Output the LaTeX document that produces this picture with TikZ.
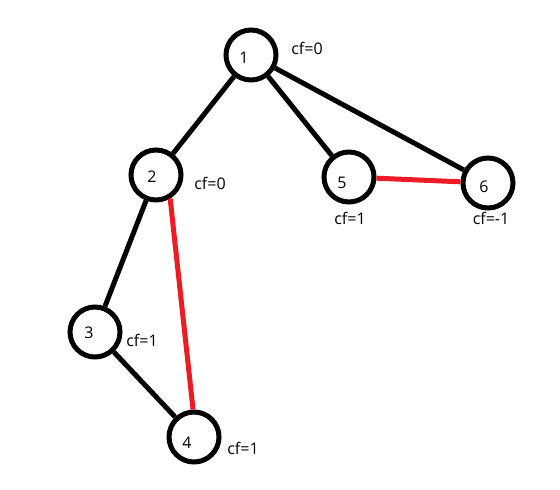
\documentclass[tikz,border=0pt]{standalone}
\usepackage{fontspec}
\setmainfont{Open Sans}
\usetikzlibrary{positioning}
\definecolor{paintred}{RGB}{237,28,36}
\tikzset{
  vtx/.style={circle, draw=black, line width=5pt, minimum size=50pt, inner sep=0pt},
  num/.style={font=\fontsize{16}{19}\selectfont},
  cf/.style={font=\fontsize{16}{19}\selectfont, inner sep=0pt},
  tree/.style={line width=5pt, black},
  back/.style={line width=5pt, paintred}
}
\begin{document}
\begin{tikzpicture}[x=1pt, y=-1pt]
\useasboundingbox (0,0) rectangle (560,490);
% vertices
\node [vtx, label={[num, xshift=-7pt, yshift=-3pt]center:1}] (n1) at (251,55) {};
\node [vtx, label={[num, xshift=-4pt, yshift=-2pt]center:2}] (n2) at (156,175) {};
\node [vtx, label={[num, xshift=-6pt, yshift=-1pt]center:3}] (n3) at (95,332) {};
\node [vtx, label={[num, xshift=-7pt, yshift=-6pt]center:4}] (n4) at (194,437) {};
\node [vtx, label={[num, xshift=-7pt, yshift=-6pt]center:5}] (n5) at (349,177) {};
\node [vtx, label={[num, xshift=-4pt, yshift=-4pt]center:6}] (n6) at (488,183) {};
% cf values
\node [cf] (c1) at (307,48) {cf=0};
\node [cf] (c2) at (210,183) {cf=0};
\node [cf] (c3) at (142,340) {cf=1};
\node [cf] (c4) at (243,448) {cf=1};
\node [cf] (c5) at (350,218) {cf=1};
\node [cf] (c6) at (491,218) {cf=-1};
% tree edges
\draw [tree] (n1) -- (n2);
\draw [tree] (n1) -- (n5);
\draw [tree] (n1) -- (n6);
\draw [tree] (n2) -- (n3);
\draw [tree] (n3) -- (n4);
% back edges
\draw [back] (n2.-59) -- (n4.92);
\draw [back] (n5) -- (n6);
\end{tikzpicture}
\end{document}
